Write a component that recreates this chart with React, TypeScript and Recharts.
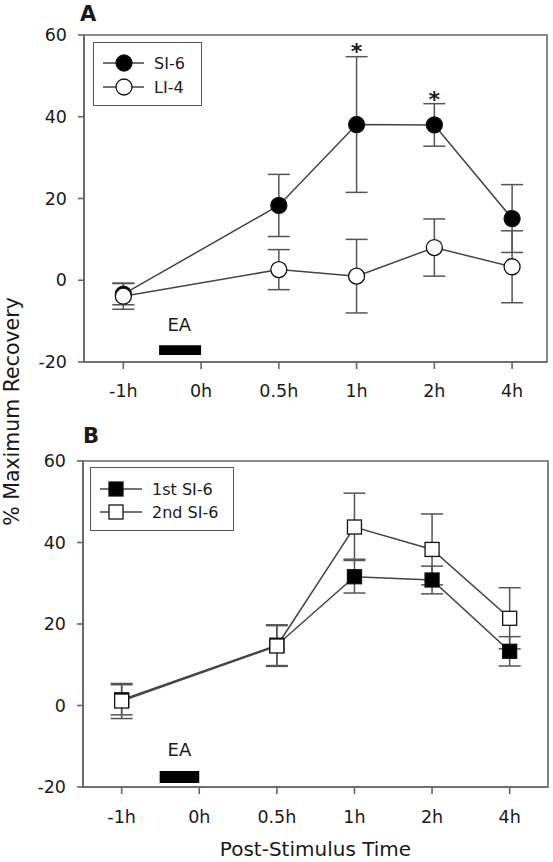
import React from 'react';
import { LineChart, Line, XAxis, YAxis, ErrorBar, ReferenceArea, ReferenceDot, Legend } from 'recharts';

const timeLabels = ['-1h', '0h', '0.5h', '1h', '2h', '4h'];
const timeIndex = [0, 2, 3, 4, 5];
const yTicks = [-20, 0, 20, 40, 60];

// Panel A
const si6Mean = [-3.4, 18.3, 38.1, 38.0, 15.1];
const si6Err = [2.6, 7.6, 16.6, 5.2, 8.3];
const li4Mean = [-3.9, 2.6, 1.0, 8.0, 3.3];
const li4Err = [3.2, 4.9, 9.0, 7.0, 8.8];
const sigA = [
  { x: 3, y: 54.2 },
  { x: 4, y: 42.4 },
];

// Panel B
const firstMean = [1.4, 14.8, 31.6, 30.8, 13.3];
const firstErr = [3.7, 5.0, 4.0, 3.4, 3.6];
const secondMean = [1.1, 14.6, 43.8, 38.3, 21.4];
const secondErrLow = [4.3, 5.0, 7.9, 8.7, 7.5];
const secondErrHigh = [4.3, 5.0, 8.3, 8.7, 7.5];

const dataA = timeIndex.map((x, i) => ({
  x,
  si6: si6Mean[i],
  si6Err: si6Err[i],
  li4: li4Mean[i],
  li4Err: li4Err[i],
}));

const dataB = timeIndex.map((x, i) => ({
  x,
  first: firstMean[i],
  firstErr: firstErr[i],
  second: secondMean[i],
  secondErr: [secondErrLow[i], secondErrHigh[i]],
}));

const FONT = 'DejaVu Sans';
const TEXT = '#1a1a1a';
const AXIS = '#666';
const LINE = '#444';
const ERR = '#555';

const circleDot = (fill: string) => (props: any) => {
  const { cx, cy, index } = props;
  if (cx == null || cy == null) return <g key={`c${index}`} />;
  return <circle key={`c${index}`} cx={cx} cy={cy} r={8} fill={fill} stroke="#111" strokeWidth={1.3} />;
};

const squareDot = (fill: string) => (props: any) => {
  const { cx, cy, index } = props;
  if (cx == null || cy == null) return <g key={`s${index}`} />;
  return <rect key={`s${index}`} x={cx - 7} y={cy - 7} width={14} height={14} fill={fill} stroke="#111" strokeWidth={1.3} />;
};

const starShape = (props: any) => (
  <text x={props.cx} y={props.cy} textAnchor="middle" fontFamily={FONT} fontWeight="bold" fontSize={22} fill={TEXT}>
    *
  </text>
);

const eaShape = (props: any) => (
  <text x={props.cx} y={props.cy} textAnchor="middle" fontFamily={FONT} fontSize={18} fill={TEXT}>
    EA
  </text>
);

type LegendItem = { name: string; fill: string; shape: 'circle' | 'square' };

const legendA: LegendItem[] = [
  { name: 'SI-6', fill: '#000', shape: 'circle' },
  { name: 'LI-4', fill: '#fff', shape: 'circle' },
];
const legendB: LegendItem[] = [
  { name: '1st SI-6', fill: '#000', shape: 'square' },
  { name: '2nd SI-6', fill: '#fff', shape: 'square' },
];

const LegendBox = ({ items, width, height, rows, lineX1, lineX2, markX, textX }: any) => (
  <div style={{ width, height, boxSizing: 'border-box', border: '1.5px solid #555', background: '#fff' }}>
    <svg width={width - 3} height={height - 3} style={{ display: 'block' }}>
      {items.map((it: LegendItem, i: number) => (
        <g key={it.name}>
          <line x1={lineX1} x2={lineX2} y1={rows[i]} y2={rows[i]} stroke={LINE} strokeWidth={1.5} />
          {it.shape === 'circle' ? (
            <circle cx={markX} cy={rows[i]} r={8} fill={it.fill} stroke="#111" strokeWidth={1.3} />
          ) : (
            <rect x={markX - 7} y={rows[i] - 7} width={14} height={14} fill={it.fill} stroke="#111" strokeWidth={1.3} />
          )}
          <text x={textX} y={rows[i] + 6} fontFamily={FONT} fontSize={16} fill={TEXT}>
            {it.name}
          </text>
        </g>
      ))}
    </svg>
  </div>
);

const tickStyle = { fontSize: 17.5, fill: TEXT, fontFamily: FONT };

const domainA: [number, number] = [-0.506, 5.449];
const domainB: [number, number] = [-0.498, 5.494];

export default function App() {
  return (
    <div style={{ position: 'absolute', left: 0, top: 0, width: 553, height: 862, background: '#fff' }}>
      <div style={{ position: 'absolute', left: 0, top: 0 }}>
        <LineChart width={553} height={400} data={dataA} margin={{ top: 35, right: 6, left: 24, bottom: 0 }}>
          <XAxis
            type="number"
            dataKey="x"
            domain={domainA}
            ticks={[0, 1, 2, 3, 4, 5]}
            tickFormatter={(v: number) => timeLabels[v]}
            allowDataOverflow
            interval={0}
            height={38}
            tickSize={7}
            tickMargin={16}
            tick={tickStyle}
            axisLine={{ stroke: AXIS, strokeWidth: 1.6 }}
            tickLine={{ stroke: AXIS, strokeWidth: 1.6 }}
          />
          <YAxis
            type="number"
            domain={[-20, 60]}
            ticks={yTicks}
            width={60}
            tickSize={6}
            tickMargin={11}
            tick={tickStyle}
            allowDataOverflow
            axisLine={{ stroke: AXIS, strokeWidth: 1.6 }}
            tickLine={{ stroke: AXIS, strokeWidth: 1.6 }}
          />
          <ReferenceArea x1={domainA[0]} x2={domainA[1]} y1={-20} y2={60} fill="none" stroke={AXIS} strokeWidth={1.6} ifOverflow="visible" />
          <ReferenceArea x1={0.46} x2={1} y1={-18.3} y2={-15.9} fill="#000" fillOpacity={1} stroke="none" />
          <ReferenceDot x={0.72} y={-12.4} r={1} shape={eaShape} />
          <Line type="linear" dataKey="si6" name="SI-6" stroke={LINE} strokeWidth={1.5} dot={circleDot('#000')} activeDot={false} isAnimationActive={false}>
            <ErrorBar dataKey="si6Err" width={11} stroke={ERR} strokeWidth={1.5} direction="y" />
          </Line>
          <Line type="linear" dataKey="li4" name="LI-4" stroke={LINE} strokeWidth={1.5} dot={circleDot('#fff')} activeDot={false} isAnimationActive={false}>
            <ErrorBar dataKey="li4Err" width={11} stroke={ERR} strokeWidth={1.5} direction="y" />
          </Line>
          {sigA.map((s) => (
            <ReferenceDot key={`sig${s.x}`} x={s.x} y={s.y} r={1} shape={starShape} />
          ))}
          <Legend
            layout="vertical"
            align="center"
            verticalAlign="middle"
            wrapperStyle={{ position: 'absolute', left: 93, top: 42, width: 109, height: 64, right: 'auto', bottom: 'auto' }}
            content={() => (
              <LegendBox items={legendA} width={109} height={64} rows={[20, 44]} lineX1={9} lineX2={50} markX={30} textX={60} />
            )}
          />
        </LineChart>
      </div>
      <div style={{ position: 'absolute', left: 0, top: 400 }}>
        <LineChart width={553} height={440} data={dataB} margin={{ top: 61, right: 5, left: 23, bottom: 0 }}>
          <XAxis
            type="number"
            dataKey="x"
            domain={domainB}
            ticks={[0, 1, 2, 3, 4, 5]}
            tickFormatter={(v: number) => timeLabels[v]}
            allowDataOverflow
            interval={0}
            height={53}
            tickSize={7}
            tickMargin={17}
            tick={tickStyle}
            axisLine={{ stroke: AXIS, strokeWidth: 1.6 }}
            tickLine={{ stroke: AXIS, strokeWidth: 1.6 }}
          />
          <YAxis
            type="number"
            domain={[-20, 60]}
            ticks={yTicks}
            width={60}
            tickSize={6}
            tickMargin={11}
            tick={tickStyle}
            allowDataOverflow
            axisLine={{ stroke: AXIS, strokeWidth: 1.6 }}
            tickLine={{ stroke: AXIS, strokeWidth: 1.6 }}
          />
          <ReferenceArea x1={domainB[0]} x2={domainB[1]} y1={-20} y2={60} fill="none" stroke={AXIS} strokeWidth={1.6} ifOverflow="visible" />
          <ReferenceArea x1={0.49} x2={1} y1={-19.0} y2={-16.1} fill="#000" fillOpacity={1} stroke="none" />
          <ReferenceDot x={0.745} y={-12.45} r={1} shape={eaShape} />
          <Line type="linear" dataKey="first" name="1st SI-6" stroke={LINE} strokeWidth={1.5} dot={squareDot('#000')} activeDot={false} isAnimationActive={false}>
            <ErrorBar dataKey="firstErr" width={11} stroke={ERR} strokeWidth={1.5} direction="y" />
          </Line>
          <Line type="linear" dataKey="second" name="2nd SI-6" stroke={LINE} strokeWidth={1.5} dot={squareDot('#fff')} activeDot={false} isAnimationActive={false}>
            <ErrorBar dataKey="secondErr" width={11} stroke={ERR} strokeWidth={1.5} direction="y" />
          </Line>
          <Legend
            layout="vertical"
            align="center"
            verticalAlign="middle"
            wrapperStyle={{ position: 'absolute', left: 90, top: 67, width: 144, height: 64, right: 'auto', bottom: 'auto' }}
            content={() => (
              <LegendBox items={legendB} width={144} height={64} rows={[21, 44]} lineX1={9} lineX2={51} markX={25} textX={61} />
            )}
          />
        </LineChart>
      </div>
      <svg width={553} height={862} style={{ position: 'absolute', left: 0, top: 0, pointerEvents: 'none' }}>
        <text x={80} y={21} fontFamily={FONT} fontWeight="bold" fontSize={21} fill={TEXT}>A</text>
        <text x={83} y={443} fontFamily={FONT} fontWeight="bold" fontSize={21} fill={TEXT}>B</text>
        <text
          x={0}
          y={0}
          transform="translate(19 411.5) rotate(-90)"
          textAnchor="middle"
          fontFamily={FONT}
          fontSize={20.5}
          fill={TEXT}
        >
          % Maximum Recovery
        </text>
        <text x={315.5} y={856} textAnchor="middle" fontFamily={FONT} fontSize={20} fill={TEXT}>
          Post-Stimulus Time
        </text>
      </svg>
    </div>
  );
}
